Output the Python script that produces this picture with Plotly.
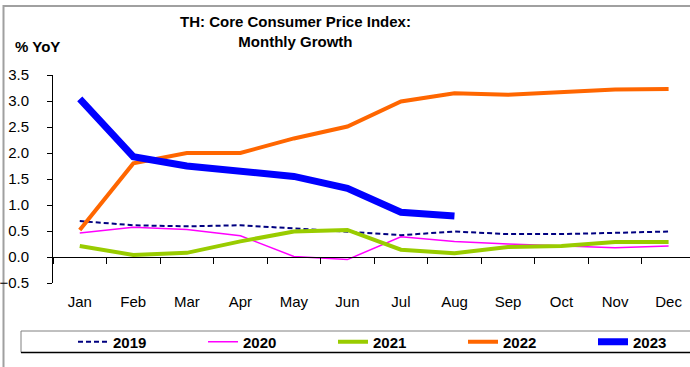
import plotly.graph_objects as go

# Thai core CPI, % year-on-year, by month
months = ["Jan", "Feb", "Mar", "Apr", "May", "Jun",
          "Jul", "Aug", "Sep", "Oct", "Nov", "Dec"]
cpi_2019 = [0.69, 0.61, 0.59, 0.61, 0.55, 0.48, 0.42, 0.49, 0.44, 0.44, 0.47, 0.49]
cpi_2020 = [0.46, 0.57, 0.53, 0.41, 0.01, -0.05, 0.39, 0.30, 0.25, 0.21, 0.18, 0.21]
cpi_2021 = [0.21, 0.04, 0.08, 0.30, 0.49, 0.52, 0.14, 0.07, 0.19, 0.21, 0.29, 0.29]
cpi_2022 = [0.52, 1.80, 2.00, 2.00, 2.28, 2.51, 2.99, 3.15, 3.12, 3.17, 3.22, 3.23]
cpi_2023 = [3.04, 1.93, 1.75, 1.66, 1.55, 1.32, 0.86, 0.79]
y_ticks = [-0.5, 0.0, 0.5, 1.0, 1.5, 2.0, 2.5, 3.0, 3.5]

W, H = 690, 367
ML, MR, MT, MB = 53, 0, 75, 84
PW, PH = W - ML - MR, H - MT - MB

def px_x(p):
    return (p - ML) / PW

def px_y(p):
    return (H - MB - p) / PH

FONT = "Arial, Liberation Sans, sans-serif"

series = [
    ("2019", cpi_2019, dict(color="#000080", width=2, dash="5px,3px")),
    ("2020", cpi_2020, dict(color="#FF00FF", width=1.5)),
    ("2021", cpi_2021, dict(color="#99CC00", width=4)),
    ("2022", cpi_2022, dict(color="#FF6600", width=4)),
    ("2023", cpi_2023, dict(color="#0000FF", width=7)),
]

# one single-entry legend per series, spaced evenly along the key strip
legend_ids = ["legend", "legend2", "legend3", "legend4", "legend5"]
legend_text_x = [113, 243, 373, 503, 633]

fig = go.Figure()
for (name, vals, line), lid in zip(series, legend_ids):
    fig.add_trace(go.Scatter(
        x=months[:len(vals)], y=vals, name=name, mode="lines",
        line=line, legend=lid, hoverinfo="x+y+name",
    ))

legends = {}
for lid, tx in zip(legend_ids, legend_text_x):
    legends[lid] = dict(
        orientation="h",
        x=px_x(tx - 40), xanchor="left",
        y=px_y(342), yanchor="middle",
        borderwidth=0, bgcolor="rgba(0,0,0,0)",
        font=dict(size=15, weight="bold", color="black"),
    )

fig.update_layout(
    width=W, height=H,
    margin=dict(l=ML, r=MR, t=MT, b=MB, autoexpand=False),
    paper_bgcolor="white", plot_bgcolor="white",
    font=dict(family=FONT, size=15, color="black"),
    xaxis=dict(
        type="category", categoryorder="array", categoryarray=months,
        range=[-0.5, 11.4],
        anchor="free", position=0.5 / 4,
        showline=True, linecolor="black", linewidth=1,
        ticks="outside", ticklen=6, tickcolor="black", tickwidth=1,
        tickson="boundaries",
        ticklabelstandoff=31,
        tickfont=dict(size=15),
        showgrid=False, zeroline=False,
    ),
    yaxis=dict(
        range=[-0.5, 3.5], tickvals=y_ticks, tickformat=".1f",
        showline=True, linecolor="black", linewidth=1,
        ticks="outside", ticklen=5, tickcolor="black",
        ticklabelstandoff=15,
        tickfont=dict(size=15),
        showgrid=False, zeroline=False,
    ),
    showlegend=True,
    annotations=[
        dict(
            text="<b>TH: Core Consumer Price Index:</b><br><b>Monthly Growth</b>",
            xref="paper", yref="paper",
            x=px_x(295), xanchor="center", y=px_y(11), yanchor="top",
            showarrow=False, font=dict(size=15), align="center",
        ),
        dict(
            text="% YoY", xref="paper", yref="paper",
            x=px_x(13), xanchor="left", y=px_y(46), yanchor="middle",
            showarrow=False, font=dict(size=15, weight="bold"),
        ),
    ],
    shapes=[
        # outer frame
        dict(type="rect", xref="paper", yref="paper",
             x0=px_x(3.5), x1=px_x(720), y0=px_y(6), y1=px_y(380),
             line=dict(color="#A0A0A0", width=2), layer="below"),
        # key strip
        dict(type="rect", xref="paper", yref="paper",
             x0=px_x(21), x1=px_x(691), y0=px_y(331), y1=px_y(352.5),
             line=dict(color="#808080", width=1), layer="below"),
        dict(type="line", xref="paper", yref="paper",
             x0=px_x(21), x1=px_x(691), y0=px_y(352.5), y1=px_y(352.5),
             line=dict(color="black", width=1.5), layer="below"),
    ],
    **legends,
)

fig.write_html("out.html")
